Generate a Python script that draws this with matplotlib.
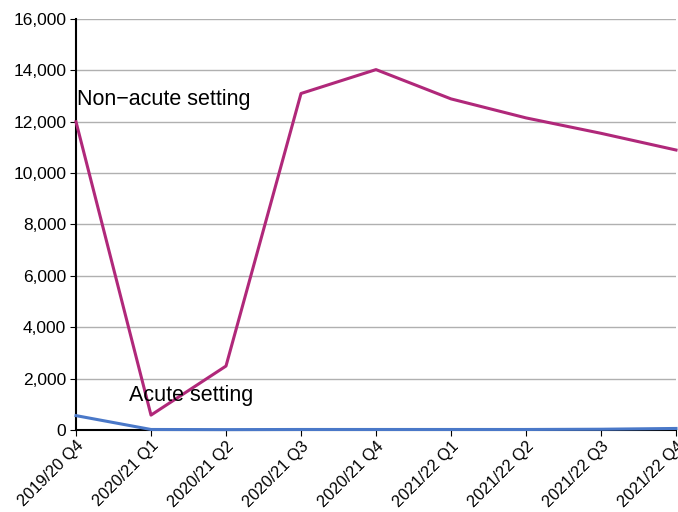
import matplotlib
matplotlib.use("Agg")
import matplotlib.pyplot as plt
from matplotlib.ticker import FuncFormatter

plt.rcParams['font.family'] = ['Liberation Sans', 'DejaVu Sans']

quarters = ['2019/20 Q4', '2020/21 Q1', '2020/21 Q2', '2020/21 Q3', '2020/21 Q4',
            '2021/22 Q1', '2021/22 Q2', '2021/22 Q3', '2021/22 Q4']
non_acute = [12000, 580, 2490, 13100, 14030, 12890, 12150, 11550, 10900]
acute = [560, 20, 15, 20, 20, 20, 20, 30, 60]

fig = plt.figure(figsize=(6.78, 5.12), dpi=100)
ax = fig.add_axes([76 / 678, 82 / 512, 600 / 678, 411 / 512])

x = range(len(quarters))
ax.plot(x, non_acute, color='#b0287a', lw=2.2, clip_on=False, zorder=3)
ax.plot(x, acute, color='#4a78c8', lw=2.2, clip_on=False, zorder=3)

ax.text(0.01, 12850, 'Non\u2212acute setting', fontsize=15.5, ha='left', va='center')
ax.text(1.54, 1360, 'Acute setting', fontsize=15.5, ha='center', va='center')

ax.set_xlim(0, len(quarters) - 1)
ax.set_ylim(0, 16000)
ax.set_yticks(range(0, 16001, 2000))
ax.yaxis.set_major_formatter(FuncFormatter(lambda v, p: f'{int(v):,}'))
ax.set_xticks(list(x))
ax.set_xticklabels(quarters, rotation=45, ha='right', rotation_mode='anchor')
ax.tick_params(colors='black', length=4)
ax.tick_params(axis='y', labelsize=12.5, pad=3)
ax.tick_params(axis='x', labelsize=11.8, pad=2)
ax.grid(axis='y', color='#b0b0b0', lw=1)
ax.set_axisbelow(True)
for s in ['top', 'right']:
    ax.spines[s].set_visible(False)
for s in ['left', 'bottom']:
    ax.spines[s].set_color('black')
    ax.spines[s].set_linewidth(1.5)

fig.savefig('out.png', dpi=100)
